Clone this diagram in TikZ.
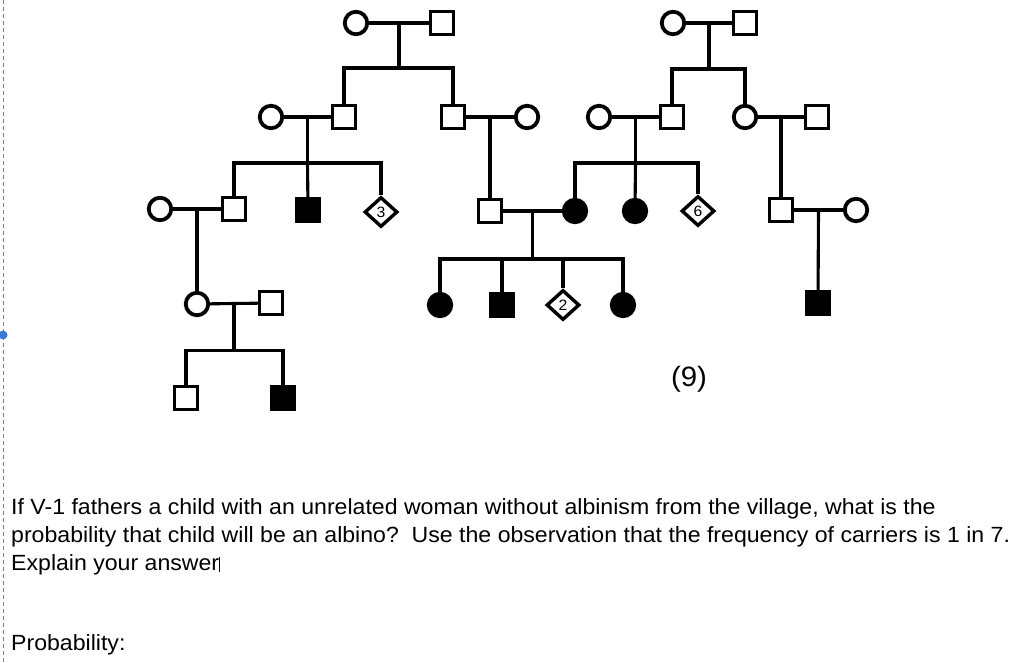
\documentclass[tikz,border=0pt]{standalone}
\usepackage{xcolor}
\usepackage{fontspec}
\setmainfont{Liberation Sans}[FakeStretch=1.05]
\usepackage{tikz}
\usetikzlibrary{shapes.geometric, calc}

\definecolor{markblue}{RGB}{59,120,216}

\begin{document}
\begin{tikzpicture}[x=1pt, y=-1pt]
    \tikzstyle{male} = [rectangle, draw, line width=3.4pt, minimum size=23pt, inner sep=0pt]
    \tikzstyle{female} = [circle, draw, line width=3.8pt, minimum size=22.5pt, inner sep=0pt]
    \tikzstyle{unknown} = [diamond, draw, line width=3.4pt, minimum width=33pt, minimum height=30pt, inner sep=0pt, font=\fontsize{15}{15}\selectfont]
    \tikzstyle{aff} = [fill=black]
    \tikzstyle{link} = [line width=3.1pt]
    \tikzstyle{para} = [anchor=base west, align=left, inner sep=0pt, font=\fontsize{22}{28}\selectfont]

    \useasboundingbox (0,0) rectangle (1024,662);

    % generation I
    \node[female] (i1) at (356,23) {};
    \node[male] (i2) at (442,23) {};
    \node[female] (i3) at (673,23) {};
    \node[male] (i4) at (745,23) {};

    % generation II
    \node[female] (ii1) at (271,117) {};
    \node[male] (ii2) at (344,117) {};
    \node[male] (ii3) at (453,117) {};
    \node[female] (ii4) at (527,117) {};
    \node[female] (ii5) at (599,117) {};
    \node[male] (ii6) at (672,117) {};
    \node[female] (ii7) at (745,117) {};
    \node[male] (ii8) at (817,117) {};

    % generation III
    \node[female] (iii1) at (160,209) {};
    \node[male] (iii2) at (234,209) {};
    \node[male, aff] (iii3) at (308,210) {};
    \node[unknown] (iii4) at (381,212) {3};
    \node[male] (iii5) at (490,211) {};
    \node[female, aff] (iii6) at (575,211) {};
    \node[female, aff] (iii7) at (635,211) {};
    \node[unknown] (iii8) at (698,211) {6};
    \node[male] (iii9) at (781,210) {};
    \node[female] (iii10) at (856,210) {};

    % generation IV
    \node[female] (iv1) at (197,304) {};
    \node[male] (iv2) at (271,303) {};
    \node[female, aff] (iv3) at (440,305) {};
    \node[male, aff] (iv4) at (502,305) {};
    \node[unknown] (iv5) at (563,305) {2};
    \node[female, aff] (iv6) at (623,305) {};
    \node[male, aff] (iv7) at (818,303) {};

    % generation V
    \node[male] (v1) at (186,398) {};
    \node[male, aff] (v2) at (283,398) {};

    % couples
    \draw[link] (i1) -- (i2);
    \draw[link] (i3) -- (i4);
    \draw[link] (ii1) -- (ii2);
    \draw[link] (ii3) -- (ii4);
    \draw[link] (ii5) -- (ii6);
    \draw[link] (ii7) -- (ii8);
    \draw[link] (iii1) -- (iii2);
    \draw[link] (iii5) -- (iii6);
    \draw[link] (iii9) -- (iii10);
    \draw[link] (iv1) -- (iv2);

    % children
    \coordinate (m1) at ($(i1)!.5!(i2)$);
    \draw[link] (m1) -- ++(0,45) coordinate (b1);
    \draw[link] (ii2) |- (b1) -| (ii3);

    \coordinate (m2) at ($(i3)!.5!(i4)$);
    \draw[link] (m2) -- ++(0,46) coordinate (b2);
    \draw[link] (ii6) |- (b2) -| (ii7);

    \coordinate (m3) at ($(ii1)!.5!(ii2)$);
    \draw[link] (m3) -- ++(0,46) coordinate (b3);
    \draw[link] (iii2) |- (b3) -| (iii4);
    \draw[link] (b3) -- (iii3);

    \coordinate (m4) at ($(ii5)!.5!(ii6)$);
    \draw[link] (m4) -- ++(0,46) coordinate (b4);
    \draw[link] (iii6) |- (b4) -| (iii8);
    \draw[link] (b4) -- (iii7);

    \coordinate (m5) at ($(ii3)!.5!(ii4)$);
    \draw[link] (m5) -- (iii5);
    \coordinate (m6) at ($(ii7)!.5!(ii8)$);
    \draw[link] (m6) -- (iii9);

    \coordinate (m7) at ($(iii1)!.5!(iii2)$);
    \draw[link] (m7) -- (iv1);

    \coordinate (m8) at ($(iii5)!.5!(iii6)$);
    \draw[link] (m8) -- ++(0,48) coordinate (b8);
    \draw[link] (iv3) |- (b8) -| (iv6);
    \draw[link] (b8 -| iv4) -- (iv4);
    \draw[link] (b8 -| iv5) -- (iv5);

    \coordinate (m9) at ($(iii9)!.5!(iii10)$);
    \draw[link] (m9) -- (iv7);

    \coordinate (m10) at ($(iv1)!.5!(iv2)$);
    \draw[link] (m10) -- ++(0,47) coordinate (b10);
    \draw[link] (v1) |- (b10) -| (v2);

    \node[font=\fontsize{28}{28}\selectfont] (fig) at (689,379) {(9)};

    % question text
    \node[para] (question) at (11,570) {If V-1 fathers a child with an unrelated woman without albinism from the village, what is the\\
        probability that child will be an albino?\ \ Use the observation that the frequency of carriers is 1 in 7.\\
        Explain your answer\rule[-2pt]{0.8pt}{15pt}};
    \node[para] (prob) at (11,650) {Probability:};

    % margin
    \draw[gray, line width=0.8pt, dash pattern=on 4pt off 3pt] (3,0) -- (3,662);
    \node[circle, fill=markblue, minimum size=9pt, inner sep=0pt] (dot) at (3,335) {};
\end{tikzpicture}
\end{document}
